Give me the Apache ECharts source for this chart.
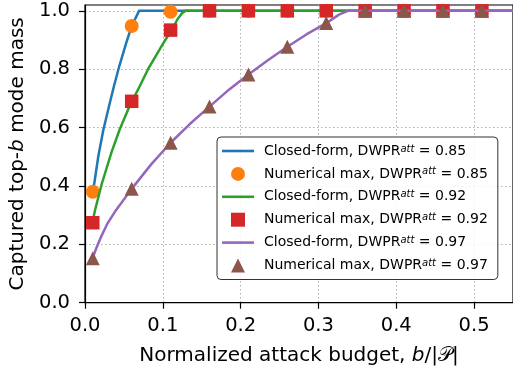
<!DOCTYPE html>
<html>
<head>
<meta charset="utf-8">
<script src="https://cdn.jsdelivr.net/npm/echarts@6/dist/echarts.min.js"></script>
<style>html,body{margin:0;padding:0;background:#fff}#c{width:513px;height:374px}</style>
</head>
<body>
<div id="c"></div>
<script>
// Marker budgets (x) and numerical-max values
var markerX = [0.01, 0.06, 0.11, 0.16, 0.21, 0.26, 0.31, 0.36, 0.41, 0.46, 0.51];
var numMax85 = [0.38, 0.948, 0.997, 1.0, 1.0, 1.0, 1.0, 1.0, 1.0, 1.0, 1.0];
var numMax92 = [0.274, 0.69, 0.934, 1.0, 1.0, 1.0, 1.0, 1.0, 1.0, 1.0, 1.0];
var numMax97 = [0.152, 0.39, 0.548, 0.672, 0.782, 0.877, 0.958, 1.0, 1.0, 1.0, 1.0];

// Closed-form curves
var cf85X = [0.01, 0.012, 0.017, 0.0234, 0.031, 0.037, 0.044, 0.053, 0.06, 0.0695, 0.55];
var cf85Y = [0.38, 0.41, 0.50, 0.59, 0.675, 0.74, 0.81, 0.89, 0.948, 1.0, 1.0];
var cf92X = [0.01, 0.0128, 0.0213, 0.034, 0.0448, 0.0575, 0.07, 0.081, 0.092, 0.102, 0.113, 0.119, 0.125, 0.129, 0.55];
var cf92Y = [0.28, 0.316, 0.405, 0.515, 0.595, 0.675, 0.74, 0.80, 0.85, 0.895, 0.942, 0.972, 0.993, 1.0, 1.0];
var cf97X = [0.01, 0.015, 0.02, 0.029, 0.04, 0.06, 0.085, 0.11, 0.135, 0.16, 0.185, 0.21, 0.235, 0.26, 0.285, 0.31, 0.327, 0.338, 0.55];
var cf97Y = [0.155, 0.19, 0.222, 0.272, 0.318, 0.39, 0.474, 0.548, 0.613, 0.672, 0.73, 0.782, 0.831, 0.877, 0.92, 0.958, 0.988, 1.0, 1.0];

var xTicks = [0, 0.1, 0.2, 0.3, 0.4, 0.5];
var yTicks = [0, 0.2, 0.4, 0.6, 0.8, 1.0];

var names = [
  'Closed-form, DWPR^att = 0.85',
  'Numerical max, DWPR^att = 0.85',
  'Closed-form, DWPR^att = 0.92',
  'Numerical max, DWPR^att = 0.92',
  'Closed-form, DWPR^att = 0.97',
  'Numerical max, DWPR^att = 0.97'
];

function zip(xs, ys) { return xs.map(function (x, i) { return [x, ys[i]]; }); }
var FONT = 'DejaVu Sans';

function lineSeries(name, xs, ys, color, z) {
  return {
    name: name, type: 'line', data: zip(xs, ys), symbol: 'none', showSymbol: false,
    smooth: false,
    lineStyle: { color: color, width: 2.5, join: 'round' }, itemStyle: { color: color },
    z: z, animation: false
  };
}
function scatterSeries(name, ys, color, symbol, size, z) {
  return {
    name: name, type: 'scatter', data: zip(markerX, ys), symbol: symbol,
    symbolSize: size, symbolKeepAspect: true,
    itemStyle: { color: color, opacity: 1 }, z: z, animation: false
  };
}

var LINE_ICON = 'path://M0 0H32V2.6H0Z';
var SQUARE_ICON = 'path://M0 0H14V14H0Z';
var TRI_ICON = 'path://M7 0L14 14H0Z';

var chart = echarts.init(document.getElementById('c'), null, { renderer: 'canvas' });
chart.setOption({
  backgroundColor: '#fff',
  animation: false,
  grid: { left: 84, top: 5, right: -1, bottom: 71.3, show: true, borderColor: '#000', borderWidth: 1.2, backgroundColor: 'transparent' },
  xAxis: {
    type: 'value', min: 0, max: 0.55, interval: 0.1,
    name: 'Normalized attack budget, {i|b}/|𝒫|',
    nameLocation: 'middle', nameGap: 43,
    nameTextStyle: { fontFamily: FONT, fontSize: 20, color: '#000',
      rich: { i: { fontFamily: FONT, fontSize: 20, fontStyle: 'italic', color: '#000' } } },
    axisLine: { show: true, lineStyle: { color: '#000', width: 1.2 } },
    axisTick: { show: true, inside: false, length: 6, lineStyle: { color: '#000', width: 1.2 }, customValues: xTicks },
    axisLabel: { fontFamily: FONT, fontSize: 19.5, color: '#000', margin: 13, customValues: xTicks,
      formatter: function (v) { return v.toFixed(1); } },
    splitLine: { show: true, lineStyle: { color: '#b0b0b0', width: 1, type: [1.5, 2.5] } }
  },
  yAxis: {
    type: 'value', min: 0, max: 1.02, interval: 0.2,
    name: 'Captured top-{i|b} mode mass',
    nameLocation: 'middle', nameGap: 57,
    nameTextStyle: { fontFamily: FONT, fontSize: 20, color: '#000',
      rich: { i: { fontFamily: FONT, fontSize: 20, fontStyle: 'italic', color: '#000' } } },
    axisLine: { show: true, lineStyle: { color: '#000', width: 1.2 } },
    axisTick: { show: true, inside: false, length: 6, lineStyle: { color: '#000', width: 1.2 }, customValues: yTicks },
    axisLabel: { fontFamily: FONT, fontSize: 19.5, color: '#000', margin: 15, customValues: yTicks,
      formatter: function (v) { return v.toFixed(1); } },
    splitLine: { show: true, lineStyle: { color: '#b0b0b0', width: 1, type: [1.5, 2.5] } }
  },
  legend: {
    orient: 'vertical', left: 217, top: 137,
    padding: [7, 10, 7, 5],
    itemWidth: 32, itemHeight: 14, itemGap: 8.9,
    symbolKeepAspect: true,
    backgroundColor: 'rgba(255,255,255,0.85)', borderColor: '#333', borderWidth: 1, borderRadius: 4,
    data: [
      { name: names[0], icon: LINE_ICON },
      { name: names[1], icon: 'circle' },
      { name: names[2], icon: LINE_ICON },
      { name: names[3], icon: SQUARE_ICON },
      { name: names[4], icon: LINE_ICON },
      { name: names[5], icon: TRI_ICON }
    ],
    formatter: function (n) { return n.replace('^att', '{sup|att}'); },
    textStyle: { fontFamily: FONT, fontSize: 14, color: '#000', padding: [0, 0, 0, 5],
      rich: { sup: { fontFamily: FONT, fontSize: 10, fontStyle: 'italic', color: '#000', verticalAlign: 'top', lineHeight: 10 } } }
  },
  series: [
    lineSeries(names[0], cf85X, cf85Y, '#1f77b4', 2),
    scatterSeries(names[1], numMax85, '#ff7f0e', 'circle', 14, 3),
    lineSeries(names[2], cf92X, cf92Y, '#2ca02c', 4),
    scatterSeries(names[3], numMax92, '#d62728', 'rect', 13.5, 5),
    lineSeries(names[4], cf97X, cf97Y, '#9467bd', 6),
    scatterSeries(names[5], numMax97, '#8c564b', 'triangle', 14, 7)
  ]
});
</script>
</body>
</html>
